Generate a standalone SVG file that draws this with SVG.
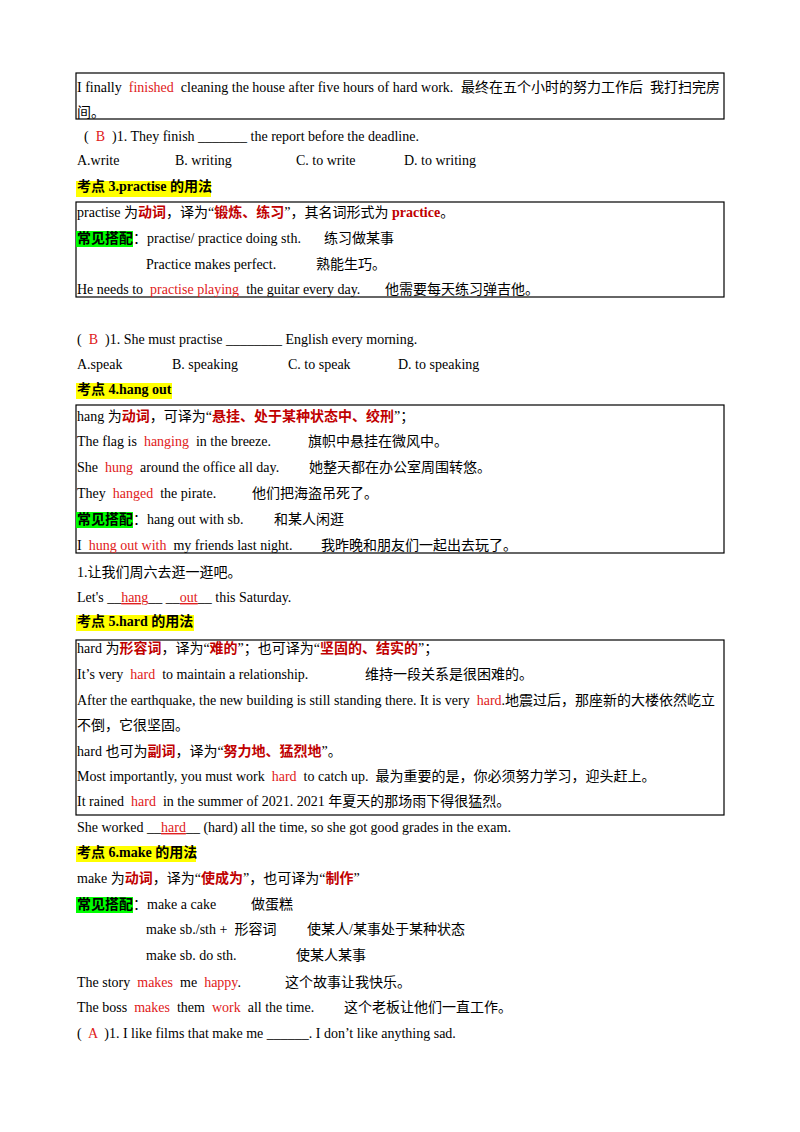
<svg xmlns="http://www.w3.org/2000/svg" width="800" height="1132" viewBox="0 0 800 1132" xml:space="preserve">
<style>
text{font-family:"Liberation Serif","Noto Sans CJK SC",serif;font-size:14px;fill:#000;white-space:pre}
.r{fill:#e02020}
.rb{fill:#c00000;font-weight:bold}
.b{font-weight:bold}
.box{fill:none;stroke:#000;stroke-width:1.2}
.y{fill:#ffff00}
.g{fill:#00ff00}
</style>
<rect width="800" height="1132" fill="#fff"/>
<g id="box1"><rect class="box" x="76" y="73" width="648" height="46"/>
<text x="77" y="92">I finally  <tspan class="r">finished</tspan>  cleaning the house after five hours of hard work.</text><text x="461" y="92">最终在五个小时的努力工作后  我打扫完房</text>
<text x="77" y="117">间。</text></g>
<text x="77" y="141">  (  <tspan class="r">B</tspan>  )1. They finish _______ the report before the deadline.</text>
<text x="77" y="165">A.write</text><text x="175" y="165">B. writing</text><text x="296" y="165">C. to write</text><text x="404" y="165">D. to writing</text>
<g id="h3"><rect class="y" x="76" y="181" width="135" height="16"/><text class="b" x="77" y="191">考点 3.practise 的用法</text></g>
<g id="box2"><rect class="box" x="76" y="202" width="648" height="95"/>
<text x="77" y="217">practise 为<tspan class="rb">动词</tspan>，译为“<tspan class="rb">锻炼、练习</tspan>”，其名词形式为 <tspan class="rb">practice</tspan>。</text>
<rect class="g" x="76" y="231" width="57" height="16"/>
<text x="77" y="243"><tspan class="b">常见搭配</tspan>：practise/ practice doing sth.</text><text x="324" y="243">练习做某事</text>
<text x="146" y="269">Practice makes perfect.</text><text x="316" y="269">熟能生巧。</text>
<text x="77" y="294">He needs to  <tspan class="r">practise playing</tspan>  the guitar every day.</text><text x="385" y="294">他需要每天练习弹吉他。</text></g>
<text x="77" y="344">(  <tspan class="r">B</tspan>  )1. She must practise ________ English every morning.</text>
<text x="77" y="369">A.speak</text><text x="172" y="369">B. speaking</text><text x="288" y="369">C. to speak</text><text x="398" y="369">D. to speaking</text>
<g id="h4"><rect class="y" x="76" y="383" width="96" height="16"/><text class="b" x="77" y="394">考点 4.hang out</text></g>
<g id="box3"><rect class="box" x="76" y="405" width="648" height="148"/>
<text x="77" y="421">hang 为<tspan class="rb">动词</tspan>，可译为“<tspan class="rb">悬挂、处于某种状态中、绞刑</tspan>”；</text>
<text x="77" y="446">The flag is  <tspan class="r">hanging</tspan>  in the breeze.</text><text x="308" y="446">旗帜中悬挂在微风中。</text>
<text x="77" y="472">She  <tspan class="r">hung</tspan>  around the office all day.</text><text x="309" y="472">她整天都在办公室周围转悠。</text>
<text x="77" y="498">They  <tspan class="r">hanged</tspan>  the pirate.</text><text x="252" y="498">他们把海盗吊死了。</text>
<rect class="g" x="76" y="512" width="57" height="16"/>
<text x="77" y="524"><tspan class="b">常见搭配</tspan>：hang out with sb.</text><text x="274" y="524">和某人闲逛</text>
<text x="77" y="550">I  <tspan class="r">hung out with</tspan>  my friends last night.</text><text x="321" y="550">我昨晚和朋友们一起出去玩了。</text></g>
<text x="77" y="577">1.让我们周六去逛一逛吧。</text>
<text x="77" y="602">Let's __<tspan class="r" text-decoration="underline">hang</tspan>__ __<tspan class="r" text-decoration="underline">out</tspan>__ this Saturday.</text>
<g id="h5"><rect class="y" x="76" y="615" width="118" height="16"/><text class="b" x="77" y="626">考点 5.hard 的用法</text></g>
<g id="box4"><rect class="box" x="76" y="640" width="648" height="175"/>
<text x="77" y="653">hard 为<tspan class="rb">形容词</tspan>，译为“<tspan class="rb">难的</tspan>”；也可译为“<tspan class="rb">坚固的、结实的</tspan>”；</text>
<text x="77" y="679">It’s very  <tspan class="r">hard</tspan>  to maintain a relationship.</text><text x="365" y="679">维持一段关系是很困难的。</text>
<text x="77" y="705">After the earthquake, the new building is still standing there. It is very  <tspan class="r">hard</tspan>.地震过后，那座新的大楼依然屹立</text>
<text x="77" y="730">不倒，它很坚固。</text>
<text x="77" y="756">hard 也可为<tspan class="rb">副词</tspan>，译为“<tspan class="rb">努力地、猛烈地</tspan>”。</text>
<text x="77" y="781">Most importantly, you must work  <tspan class="r">hard</tspan>  to catch up.  最为重要的是，你必须努力学习，迎头赶上。</text>
<text x="77" y="806">It rained  <tspan class="r">hard</tspan>  in the summer of 2021. 2021 年夏天的那场雨下得很猛烈。</text></g>
<text x="77" y="832">She worked __<tspan class="r" text-decoration="underline">hard</tspan>__ (hard) all the time, so she got good grades in the exam.</text>
<g id="h6"><rect class="y" x="76" y="846" width="120" height="16"/><text class="b" x="77" y="857">考点 6.make 的用法</text></g>
<text x="77" y="883">make 为<tspan class="rb">动词</tspan>，译为“<tspan class="rb">使成为</tspan>”，也可译为“<tspan class="rb">制作</tspan>”</text>
<rect class="g" x="76" y="897" width="57" height="16"/>
<text x="77" y="909"><tspan class="b">常见搭配</tspan>：make a cake</text><text x="251" y="909">做蛋糕</text>
<text x="146" y="934">make sb./sth +  形容词</text><text x="307" y="934">使某人/某事处于某种状态</text>
<text x="146" y="960">make sb. do sth.</text><text x="296" y="960">使某人某事</text>
<text x="77" y="987">The story  <tspan class="r">makes</tspan>  me  <tspan class="r">happy</tspan>.</text><text x="285" y="987">这个故事让我快乐。</text>
<text x="77" y="1012">The boss  <tspan class="r">makes</tspan>  them  <tspan class="r">work</tspan>  all the time.</text><text x="344" y="1012">这个老板让他们一直工作。</text>
<text x="77" y="1038">(  <tspan class="r">A</tspan>  )1. I like films that make me ______. I don’t like anything sad.</text>
</svg>
